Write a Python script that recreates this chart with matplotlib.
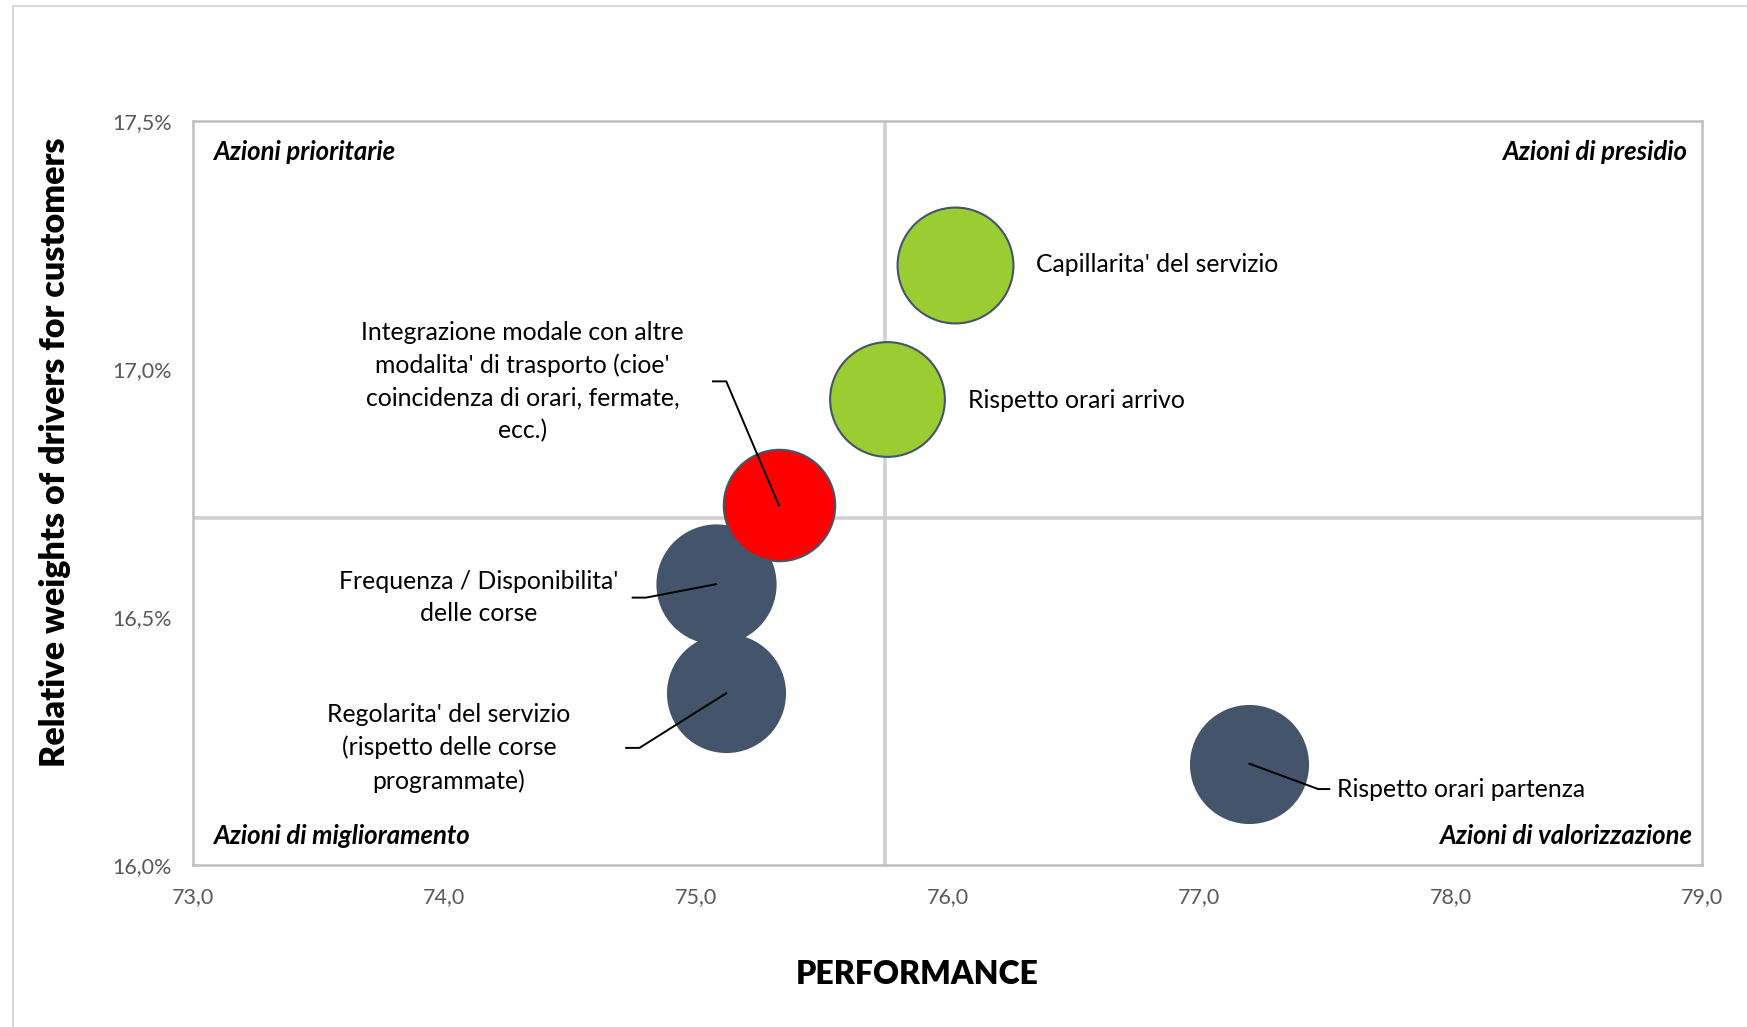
import matplotlib.pyplot as plt
from matplotlib.patches import Rectangle
from matplotlib.ticker import FuncFormatter

# drivers: performance score vs relative weight (%)
drivers = [
    "Capillarita' del servizio",
    "Rispetto orari arrivo",
    "Integrazione modale con altre\nmodalita' di trasporto (cioe'\ncoincidenza di orari, fermate,\necc.)",
    "Frequenza / Disponibilita'\ndelle corse",
    "Regolarita' del servizio\n(rispetto delle corse\nprogrammate)",
    "Rispetto orari partenza",
]
performance = [76.03, 75.76, 75.33, 75.08, 75.12, 77.20]
weights = [17.21, 16.94, 16.725, 16.566, 16.346, 16.204]
bubble_size = [104, 103, 100, 106, 105, 105]
groups = ['presidio', 'presidio', 'prioritarie', 'miglioramento', 'miglioramento', 'valorizzazione']

x_cut = 75.75
y_cut = 16.70

colors = {'presidio': '#9ACD32', 'prioritarie': '#FF0000',
          'miglioramento': '#44546A', 'valorizzazione': '#44546A'}

# label placement: (text x, text y, ha, elbow x, stub end x) -- None means no leader
label_pos = [
    (76.352, 17.21, 'left', None, None),
    (76.082, 16.936, 'left', None, None),
    (74.311, 16.975, 'center', 75.121, 75.068),
    (74.138, 16.539, 'center', 74.802, 74.749),
    (74.019, 16.236, 'center', 74.776, 74.723),
    (77.548, 16.153, 'left', 77.473, 77.517),
]

quadrants = [
    ("Azioni prioritarie", 0.0133, 0.958, 'left'),
    ("Azioni di presidio", 0.9897, 0.958, 'right'),
    ("Azioni di miglioramento", 0.0133, 0.039, 'left'),
    ("Azioni di valorizzazione", 0.9934, 0.039, 'right'),
]

plt.rcParams['font.family'] = ['Lato', 'DejaVu Sans']

fig = plt.figure(figsize=(17.47, 10.27), dpi=100)
ax = fig.add_axes([0.1102, 0.1578, 0.8643, 0.7244])

# light frame around the whole chart
fig.patches.append(Rectangle((13 / 1747, -0.1), 1.2, 1.1 - 6 / 1027,
                             transform=fig.transFigure, fill=False,
                             edgecolor='#D9D9D9', linewidth=1.5))

ax.set_xlim(73, 79)
ax.set_ylim(16.0, 17.5)
ax.set_xticks([73, 74, 75, 76, 77, 78, 79])
ax.set_yticks([16.0, 16.5, 17.0, 17.5])
ax.xaxis.set_major_formatter(FuncFormatter(lambda v, p: f"{v:.1f}".replace('.', ',')))
ax.yaxis.set_major_formatter(FuncFormatter(lambda v, p: f"{v:.1f}%".replace('.', ',')))
ax.tick_params(length=0, labelsize=15.5, labelcolor='#595959')
ax.tick_params(axis='x', pad=16)
ax.tick_params(axis='y', pad=15)
for s in ax.spines.values():
    s.set_color('#BFBFBF')
    s.set_linewidth(1.8)

ax.axvline(x_cut, color='#D0D0D0', lw=2.6, zorder=1)
ax.axhline(y_cut, color='#D0D0D0', lw=2.6, zorder=1)

order = [3, 4, 5, 0, 1, 2]
for i in order:
    d_pt = bubble_size[i] * 1.1142 * 72 / 100
    ax.scatter(performance[i], weights[i], s=d_pt ** 2, color=colors[groups[i]],
               edgecolors='#44546A', linewidths=1.5, zorder=3)

for i, (tx, ty, ha, ex, sx) in enumerate(label_pos):
    ax.text(tx, ty, drivers[i], ha=ha, va='center', fontsize=17.8,
            linespacing=1.49, color='black', zorder=5)
    if ex is not None:
        ax.plot([performance[i], ex, sx], [weights[i], ty, ty],
                color='black', lw=1.4, zorder=4)

for txt, qx, qy, ha in quadrants:
    ax.text(qx, qy, txt, transform=ax.transAxes, ha=ha, va='center',
            fontsize=18.5, fontweight='bold', fontstyle='italic')

ax.set_xlabel('PERFORMANCE', fontsize=23, fontweight='heavy')
ax.set_ylabel('Relative weights of drivers for customers', fontsize=24.5,
              fontweight='heavy', va='center')
ax.xaxis.set_label_coords(0.4797, -0.1467)
ax.yaxis.set_label_coords(-0.0908, 0.555)
ax.xaxis.label.set_va('center')

fig.savefig('out.png', dpi=100)
